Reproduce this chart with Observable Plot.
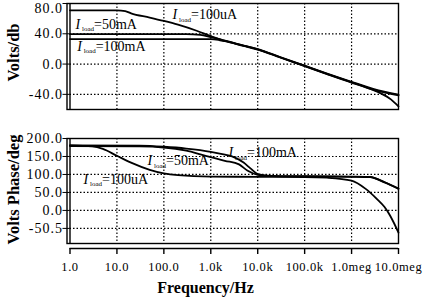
<!DOCTYPE html>
<html><head><meta charset="utf-8">
<script src="https://cdn.jsdelivr.net/npm/d3@7"></script>
<script src="https://cdn.jsdelivr.net/npm/@observablehq/plot@0.6"></script>
<style>
body{margin:0;background:#fff;}
#chart svg{display:block;}
g[aria-label="y-axis tick label"] text {letter-spacing:1px;}
g[aria-label="x-axis tick label"] text {letter-spacing:0.6px;}
</style></head><body><div id="chart"></div>
<script>
// ---- tick values and labels ----
const freqTicks = [1, 10, 100, 1e3, 1e4, 1e5, 1e6, 1e7];
const freqTickLabels = ["1.0", "10.0", "100.0", "1.0k", "10.0k", "100.0k", "1.0meg", "10.0meg"];
const gainTicks = [80, 40, 0, -40];
const gainTickLabels = ["80.0", "40.0", "0.0", "-40.0"];
const phaseTicks = [200, 150, 100, 50, 0, -50];
const phaseTickLabels = ["200.0", "150.0", "100.0", "50.0", "0.0", "-50.5"];
const freqDomain = [1, 1e7];
const gainDomain = [-60, 80];
const phaseDomain = [-92, 200];

// ---- gain series (Volts/db) ----
const gain100uA_f = [1, 10, 15, 20, 50, 100, 200, 500, 1000, 2000, 5000, 1e4, 3e4, 1e5, 3e5, 1e6, 2e6, 4e6, 7e6, 1e7];
const gain100uA_v = [71, 71, 70, 67, 61.5, 57, 52, 44, 37, 30.5, 24.5, 19.5, 9, -2.5, -13, -24, -30.5, -38, -47, -56];
const gain50mA_f = [1, 300, 600, 1000, 2000, 5000, 1e4, 3e4, 1e5, 3e5, 1e6, 3e6, 1e7];
const gain50mA_v = [39.5, 39.5, 38.5, 35.5, 31, 24.5, 19.8, 9.3, -2, -12.5, -23.5, -33, -40.5];
const gain100mA_f = [1, 1000, 1500, 2000, 5000, 1e4, 3e4, 1e5, 3e5, 1e6, 3e6, 1e7];
const gain100mA_v = [33, 33, 31.8, 30.3, 24, 19.2, 8.7, -2.8, -13.3, -24.5, -34, -41.5];

// ---- phase series (Volts Phase/deg) ----
const phase100uA_f = [1, 3, 5, 10, 20, 50, 100, 200, 1000, 1e4, 1e5, 3e5, 1e6, 2e6, 3.4e6, 5e6, 6.6e6, 8e6, 1e7];
const phase100uA_v = [181, 178, 171, 152, 133, 113, 103, 98, 94, 93.5, 93, 91, 83, 60, 33, 10, -14, -35, -62];
const phase50mA_f = [1, 30, 100, 300, 600, 1000, 2000, 4000, 6000, 1e4, 2e4, 1e5, 1e6, 2.5e6, 5e6, 1e7];
const phase50mA_v = [179, 178, 175, 166, 156, 148, 138, 128, 111, 99, 95.5, 94.5, 93.5, 92.5, 79, 60];
const phase100mA_f = [1, 30, 100, 300, 1000, 2000, 3000, 5000, 7000, 1e4, 2e4, 1e5, 1e6, 2.5e6, 5e6, 1e7];
const phase100mA_v = [181, 180, 177, 172, 163, 155, 149, 133, 117, 101, 96, 95, 94, 93, 78, 61];

// ---- curve labels ----
const gainLabelCurrents = ["50mA", "100mA", "100uA"];
const gainLabelFreqs = [1.31, 1.42, 153];
const gainLabelValues = [52, 23.5, 64.9];
const phaseLabelCurrents = ["50mA", "100uA", "100mA"];
const phaseLabelFreqs = [44.8, 1.94, 2383];
const phaseLabelValues = [137.4, 86, 159.7];

const gainTitle = "Volts/db";
const phaseTitle = "Volts Phase/deg";
const freqTitle = "Frequency/Hz";

// ---- helpers ----
const FONT = "'Liberation Serif', 'Times New Roman', serif";
function rows(f, v, s) { return f.map((x, i) => ({f: x, v: v[i], s})); }
function labelRows(f, v, c) { return f.map((x, i) => ({f: x, v: v[i], c: c[i]})); }
const freqMap = new Map(freqTicks.map((t, i) => [t, freqTickLabels[i]]));
const gainMap = new Map(gainTicks.map((t, i) => [t, gainTickLabels[i]]));
const phaseMap = new Map(phaseTicks.map((t, i) => [t, phaseTickLabels[i]]));
const gridFreq = freqTicks.slice(1, -1);
const gainGrid = gainTicks.filter(t => t < gainDomain[1]);
const gainTopTick = gainTicks.filter(t => t >= gainDomain[1]);
const phaseGrid = phaseTicks.filter(t => t < phaseDomain[1]);

const gainData = [
  ...rows(gain100uA_f, gain100uA_v, "100uA"),
  ...rows(gain50mA_f, gain50mA_v, "50mA"),
  ...rows(gain100mA_f, gain100mA_v, "100mA")
];
const phaseData = [
  ...rows(phase100uA_f, phase100uA_v, "100uA"),
  ...rows(phase50mA_f, phase50mA_v, "50mA"),
  ...rows(phase100mA_f, phase100mA_v, "100mA")
];
const gainLabels = labelRows(gainLabelFreqs, gainLabelValues, gainLabelCurrents);
const phaseLabels = labelRows(phaseLabelFreqs, phaseLabelValues, phaseLabelCurrents);

const dotted = {stroke: "black", strokeDasharray: "1.5,2", strokeWidth: 1.2};

function curveLabels(data) {
  return [
    Plot.text(data, {x: "f", y: "v", text: () => "I", fontStyle: "italic", fontSize: 14, textAnchor: "start", fill: "black"}),
    Plot.text(data, {x: "f", y: "v", text: () => "load", fontSize: 7, textAnchor: "start", dx: 6.5, dy: 4.5, fill: "black"}),
    Plot.text(data, {x: "f", y: "v", text: d => "=" + d.c, fontSize: 14, textAnchor: "start", dx: 18.5, fill: "black"})
  ];
}

const common = {
  width: 424,
  marginLeft: 69.5,
  marginRight: 26,
  style: {fontFamily: FONT, color: "black", background: "white", overflow: "visible"}
};

const gainPlot = Plot.plot({
  ...common,
  height: 125,
  marginTop: 3,
  marginBottom: 16,
  x: {type: "log", domain: freqDomain, axis: null},
  y: {domain: gainDomain},
  marks: [
    Plot.ruleX(gridFreq, dotted),
    Plot.ruleY(gainGrid, dotted),
    Plot.axisY({ticks: gainTicks, tickFormat: d => gainGrid.includes(d) ? gainMap.get(d) : "", tickSize: 7, tickPadding: 0, fontSize: 14, label: null}),
    Plot.axisY({ticks: gainTopTick, tickFormat: d => gainMap.get(d), tickSize: 0, tickPadding: 7, fontSize: 14, label: null, dy: 5}),
    Plot.line(gainData, {x: "f", y: "v", z: "s", stroke: "black", strokeWidth: 1.8, curve: "monotone-x"}),
    Plot.frame({insetLeft: -3, stroke: "black", strokeWidth: 1.4}),
    Plot.ruleX([freqDomain[0]], {stroke: "black", strokeWidth: 1.4}),
    ...curveLabels(gainLabels),
    Plot.text([gainTitle], {text: d => d, frameAnchor: "left", textAnchor: "middle", lineAnchor: "middle", rotate: -90, dx: -56.5, dy: -4, fontSize: 16.5, fontWeight: "bold", fill: "black"})
  ]
});

const phasePlot = Plot.plot({
  ...common,
  height: 174,
  marginTop: 13,
  marginBottom: 56,
  x: {type: "log", domain: freqDomain},
  y: {domain: phaseDomain},
  marks: [
    Plot.ruleX(gridFreq, dotted),
    Plot.ruleY(phaseGrid, dotted),
    Plot.axisY({ticks: phaseTicks, tickFormat: d => phaseMap.get(d), tickSize: 7, tickPadding: 0, fontSize: 14, label: null}),
    Plot.axisX({ticks: freqTicks, tickFormat: d => freqMap.get(d), tickSize: 6, tickPadding: 8, dy: 5, fontSize: 12.5, strokeWidth: 1.4, label: null}),
    Plot.ruleY([phaseDomain[0]], {dy: 5, stroke: "black", strokeWidth: 1.4}),
    Plot.line(phaseData, {x: "f", y: "v", z: "s", stroke: "black", strokeWidth: 1.8, curve: "monotone-x"}),
    Plot.frame({insetLeft: -3, stroke: "black", strokeWidth: 1.4}),
    Plot.ruleX([freqDomain[0]], {stroke: "black", strokeWidth: 1.4}),
    ...curveLabels(phaseLabels),
    Plot.text([phaseTitle], {text: d => d, frameAnchor: "left", textAnchor: "middle", lineAnchor: "middle", rotate: -90, dx: -56.5, dy: -1.5, fontSize: 16.5, fontWeight: "bold", fill: "black"}),
    Plot.text([freqTitle], {text: d => d, frameAnchor: "bottom", textAnchor: "middle", lineAnchor: "middle", dx: -28.75, dy: 44, fontSize: 16, fontWeight: "bold", fill: "black"})
  ]
});

const chart = document.getElementById("chart");
chart.appendChild(gainPlot);
chart.appendChild(phasePlot);
</script></body></html>
